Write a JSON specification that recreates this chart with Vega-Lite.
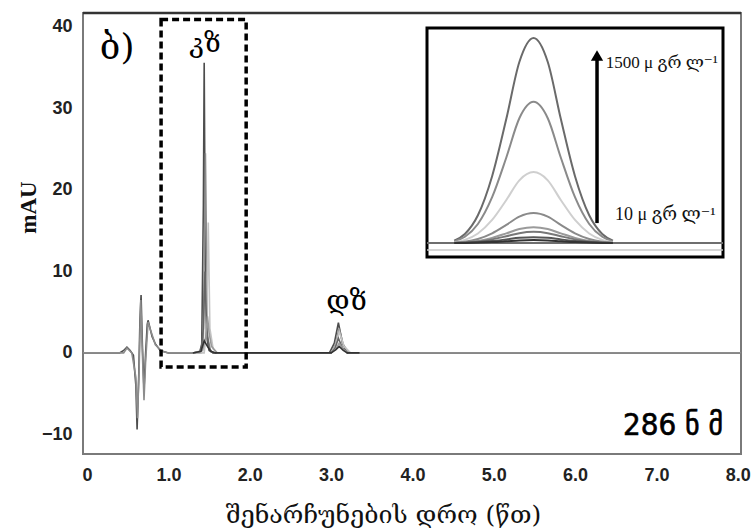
{
  "$schema": "https://vega.github.io/schema/vega-lite/v6.json",
  "width": 658,
  "height": 441,
  "autosize": {"type": "none"},
  "padding": {"left": 83, "top": 13, "right": 14, "bottom": 77},
  "background": "white",
  "config": {"view": {"stroke": "#7a7a7a", "strokeWidth": 2}},
  "datasets": {
    "main": [
      {"t": -0.05, "v": 0, "s": "a"}, {"t": 0.40, "v": 0, "s": "a"}, {"t": 0.45, "v": 0.3, "s": "a"}, {"t": 0.49, "v": 0.7, "s": "a"}, {"t": 0.53, "v": 0.3, "s": "a"}, {"t": 0.57, "v": -0.3, "s": "a"}, {"t": 0.60, "v": -4, "s": "a"}, {"t": 0.615, "v": -9.4, "s": "a"}, {"t": 0.635, "v": -3, "s": "a"}, {"t": 0.65, "v": 4, "s": "a"}, {"t": 0.664, "v": 7.1, "s": "a"}, {"t": 0.68, "v": 1, "s": "a"}, {"t": 0.70, "v": -4.5, "s": "a"}, {"t": 0.72, "v": 0, "s": "a"}, {"t": 0.74, "v": 3.5, "s": "a"}, {"t": 0.75, "v": 4.0, "s": "a"}, {"t": 0.77, "v": 3.2, "s": "a"}, {"t": 0.80, "v": 2.0, "s": "a"}, {"t": 0.84, "v": 1.1, "s": "a"}, {"t": 0.90, "v": 0.3, "s": "a"}, {"t": 1.00, "v": 0, "s": "a"}, {"t": 1.38, "v": 0, "s": "a"}, {"t": 1.41, "v": 1, "s": "a"}, {"t": 1.43, "v": 18, "s": "a"}, {"t": 1.44, "v": 35.6, "s": "a"}, {"t": 1.45, "v": 18, "s": "a"}, {"t": 1.47, "v": 2, "s": "a"}, {"t": 1.50, "v": 0.3, "s": "a"}, {"t": 1.55, "v": 0, "s": "a"}, {"t": 2.98, "v": 0, "s": "a"}, {"t": 3.04, "v": 1.2, "s": "a"}, {"t": 3.09, "v": 3.7, "s": "a"}, {"t": 3.14, "v": 1.2, "s": "a"}, {"t": 3.20, "v": 0, "s": "a"}, {"t": 8.04, "v": 0, "s": "a"},
      {"t": -0.05, "v": 0, "s": "b"}, {"t": 0.45, "v": 0, "s": "b"}, {"t": 0.49, "v": 0.6, "s": "b"}, {"t": 0.55, "v": 0, "s": "b"}, {"t": 0.60, "v": -3, "s": "b"}, {"t": 0.62, "v": -8, "s": "b"}, {"t": 0.64, "v": -2, "s": "b"}, {"t": 0.66, "v": 6.5, "s": "b"}, {"t": 0.68, "v": 0, "s": "b"}, {"t": 0.70, "v": -5.8, "s": "b"}, {"t": 0.72, "v": -1, "s": "b"}, {"t": 0.75, "v": 3.8, "s": "b"}, {"t": 0.78, "v": 2.8, "s": "b"}, {"t": 0.84, "v": 1.0, "s": "b"}, {"t": 0.92, "v": 0.2, "s": "b"}, {"t": 1.00, "v": 0, "s": "b"}, {"t": 1.40, "v": 0, "s": "b"}, {"t": 1.43, "v": 2, "s": "b"}, {"t": 1.455, "v": 24.5, "s": "b"}, {"t": 1.48, "v": 2, "s": "b"}, {"t": 1.52, "v": 0.2, "s": "b"}, {"t": 1.58, "v": 0, "s": "b"}, {"t": 3.00, "v": 0, "s": "b"}, {"t": 3.05, "v": 1, "s": "b"}, {"t": 3.10, "v": 3.0, "s": "b"}, {"t": 3.15, "v": 1, "s": "b"}, {"t": 3.22, "v": 0, "s": "b"}, {"t": 8.04, "v": 0, "s": "b"},
      {"t": 1.30, "v": 0, "s": "c"}, {"t": 1.44, "v": 0, "s": "c"}, {"t": 1.47, "v": 3, "s": "c"}, {"t": 1.49, "v": 16, "s": "c"}, {"t": 1.51, "v": 3, "s": "c"}, {"t": 1.55, "v": 0.5, "s": "c"}, {"t": 1.60, "v": 0, "s": "c"}, {"t": 3.00, "v": 0, "s": "c"}, {"t": 3.05, "v": 0.8, "s": "c"}, {"t": 3.10, "v": 2.6, "s": "c"}, {"t": 3.16, "v": 0.8, "s": "c"}, {"t": 3.24, "v": 0, "s": "c"}, {"t": 3.35, "v": 0, "s": "c"},
      {"t": 1.30, "v": 0, "s": "d"}, {"t": 1.40, "v": 0.2, "s": "d"}, {"t": 1.43, "v": 3, "s": "d"}, {"t": 1.45, "v": 10, "s": "d"}, {"t": 1.47, "v": 3, "s": "d"}, {"t": 1.50, "v": 0.5, "s": "d"}, {"t": 1.55, "v": 0, "s": "d"}, {"t": 3.00, "v": 0, "s": "d"}, {"t": 3.05, "v": 0.6, "s": "d"}, {"t": 3.09, "v": 1.8, "s": "d"}, {"t": 3.14, "v": 0.6, "s": "d"}, {"t": 3.20, "v": 0, "s": "d"}, {"t": 3.35, "v": 0, "s": "d"},
      {"t": 1.30, "v": 0, "s": "e"}, {"t": 1.42, "v": 0.3, "s": "e"}, {"t": 1.46, "v": 2, "s": "e"}, {"t": 1.48, "v": 4.5, "s": "e"}, {"t": 1.50, "v": 2.5, "s": "e"}, {"t": 1.53, "v": 0.8, "s": "e"}, {"t": 1.60, "v": 0, "s": "e"}, {"t": 3.00, "v": 0, "s": "e"}, {"t": 3.06, "v": 0.5, "s": "e"}, {"t": 3.10, "v": 1.2, "s": "e"}, {"t": 3.15, "v": 0.4, "s": "e"}, {"t": 3.22, "v": 0, "s": "e"}, {"t": 3.35, "v": 0, "s": "e"},
      {"t": 1.30, "v": 0, "s": "f"}, {"t": 1.40, "v": 0.2, "s": "f"}, {"t": 1.44, "v": 1.5, "s": "f"}, {"t": 1.48, "v": 0.8, "s": "f"}, {"t": 1.52, "v": 0.2, "s": "f"}, {"t": 1.58, "v": 0, "s": "f"}, {"t": 3.00, "v": 0, "s": "f"}, {"t": 3.06, "v": 0.4, "s": "f"}, {"t": 3.10, "v": 0.8, "s": "f"}, {"t": 3.15, "v": 0.3, "s": "f"}, {"t": 3.20, "v": 0, "s": "f"}, {"t": 3.35, "v": 0, "s": "f"}
    ],
    "inset": [
      {"x": 1.373, "c1500": 0.39, "c1000": 0.27, "c500": 0.13, "c200": 0.06, "c100": 0.03, "c50": 0.02, "c25": 0.01, "c10": 0.01},
      {"x": 1.382, "c1500": 1.54, "c1000": 1.06, "c500": 0.53, "c200": 0.22, "c100": 0.12, "c50": 0.08, "c25": 0.04, "c10": 0.02},
      {"x": 1.393, "c1500": 4.73, "c1000": 3.25, "c500": 1.63, "c200": 0.69, "c100": 0.36, "c50": 0.26, "c25": 0.14, "c10": 0.07},
      {"x": 1.405, "c1500": 11.4, "c1000": 7.83, "c500": 3.93, "c200": 1.66, "c100": 0.88, "c50": 0.62, "c25": 0.33, "c10": 0.16},
      {"x": 1.417, "c1500": 21.2, "c1000": 14.6, "c500": 7.34, "c200": 3.1, "c100": 1.64, "c50": 1.15, "c25": 0.61, "c10": 0.3},
      {"x": 1.428, "c1500": 30.9, "c1000": 21.3, "c500": 10.7, "c200": 4.5, "c100": 2.38, "c50": 1.68, "c25": 0.88, "c10": 0.44},
      {"x": 1.440, "c1500": 35, "c1000": 24.1, "c500": 12.1, "c200": 5.1, "c100": 2.7, "c50": 1.9, "c25": 1.0, "c10": 0.5},
      {"x": 1.452, "c1500": 30.9, "c1000": 21.3, "c500": 10.7, "c200": 4.5, "c100": 2.38, "c50": 1.68, "c25": 0.88, "c10": 0.44},
      {"x": 1.463, "c1500": 21.2, "c1000": 14.6, "c500": 7.34, "c200": 3.1, "c100": 1.64, "c50": 1.15, "c25": 0.61, "c10": 0.3},
      {"x": 1.475, "c1500": 11.4, "c1000": 7.83, "c500": 3.93, "c200": 1.66, "c100": 0.88, "c50": 0.62, "c25": 0.33, "c10": 0.16},
      {"x": 1.487, "c1500": 4.73, "c1000": 3.25, "c500": 1.63, "c200": 0.69, "c100": 0.36, "c50": 0.26, "c25": 0.14, "c10": 0.07},
      {"x": 1.498, "c1500": 1.54, "c1000": 1.06, "c500": 0.53, "c200": 0.22, "c100": 0.12, "c50": 0.08, "c25": 0.04, "c10": 0.02},
      {"x": 1.507, "c1500": 0.39, "c1000": 0.27, "c500": 0.13, "c200": 0.06, "c100": 0.03, "c50": 0.02, "c25": 0.01, "c10": 0.01}
    ]
  },
  "layer": [
    {
      "layer": [
        {
          "data": {"name": "main"},
          "mark": {"type": "line", "strokeWidth": 1.6},
          "encoding": {
            "x": {
              "field": "t", "type": "quantitative",
              "scale": {"domain": [-0.05, 8.04], "nice": false, "zero": false},
              "axis": {
                "values": [0, 1, 2, 3, 4, 5, 6, 7, 8],
                "labelExpr": "datum.value == 0 ? '0' : format(datum.value, '.1f')",
                "labelFont": "Liberation Sans", "labelFontWeight": "bold", "labelFontSize": 18, "labelColor": "#222",
                "ticks": false, "domain": false, "grid": false, "labelPadding": 12,
                "title": "შენარჩუნების დრო (წთ)",
                "titleFont": "DejaVu Serif", "titleFontSize": 25, "titleFontWeight": "normal", "titleColor": "#111",
                "titleX": 300, "titleY": 60, "titleBaseline": "middle", "titleAlign": "center"
              }
            },
            "y": {
              "field": "v", "type": "quantitative",
              "scale": {"domain": [-12.4, 41.7], "nice": false, "zero": false},
              "axis": {
                "values": [-10, 0, 10, 20, 30, 40],
                "labelFont": "Liberation Sans", "labelFontWeight": "bold", "labelFontSize": 18, "labelColor": "#222",
                "ticks": false, "domain": false, "grid": false, "labelPadding": 11,
                "title": "mAU", "titleFont": "Liberation Serif", "titleFontSize": 23, "titleFontWeight": "bold", "titleColor": "#111",
                "titleX": -55, "titleY": 194, "titleAlign": "center", "titleBaseline": "middle"
              }
            },
            "color": {
              "field": "s", "type": "nominal",
              "scale": {"domain": ["a", "b", "c", "d", "e", "f"], "range": ["#4d4d4d", "#8c8c8c", "#c4c4c4", "#666666", "#9a9a9a", "#333333"]},
              "legend": null
            }
          }
        },
        {
          "data": {"values": [{}]},
          "mark": {"type": "rect", "fill": null, "stroke": "black", "strokeWidth": 3.5, "strokeDash": [7, 4]},
          "encoding": {
            "x": {"datum": 0.91, "type": "quantitative"},
            "x2": {"datum": 1.956},
            "y": {"datum": 40.9, "type": "quantitative"},
            "y2": {"datum": -1.72}
          }
        },
        {
          "data": {"values": [{}]},
          "mark": {"type": "rule", "stroke": "#333", "strokeWidth": 2.5},
          "encoding": {"y": {"datum": 41.7, "type": "quantitative"}}
        },
        {
          "data": {"values": [{"label": "ბ)"}]},
          "mark": {"type": "text", "font": "DejaVu Serif", "fontSize": 36, "align": "center", "baseline": "alphabetic", "color": "#000"},
          "encoding": {"x": {"datum": 0.37, "type": "quantitative"}, "y": {"datum": 36.0, "type": "quantitative"}, "text": {"field": "label"}}
        },
        {
          "data": {"values": [{"label": "კზ"}]},
          "mark": {"type": "text", "font": "DejaVu Serif", "fontSize": 27, "align": "center", "baseline": "alphabetic", "color": "#000"},
          "encoding": {"x": {"datum": 1.45, "type": "quantitative"}, "y": {"datum": 36.9, "type": "quantitative"}, "text": {"field": "label"}}
        },
        {
          "data": {"values": [{"label": "დზ"}]},
          "mark": {"type": "text", "font": "DejaVu Serif", "fontSize": 28, "align": "center", "baseline": "alphabetic", "color": "#000"},
          "encoding": {"x": {"datum": 3.19, "type": "quantitative"}, "y": {"datum": 5.3, "type": "quantitative"}, "text": {"field": "label"}}
        },
        {
          "data": {"values": [{"label": "286 ნ მ"}]},
          "mark": {"type": "text", "font": "DejaVu Sans Condensed, Liberation Sans Narrow, DejaVu Sans", "fontSize": 31, "fontWeight": "normal", "align": "right", "baseline": "alphabetic", "color": "#000", "stroke": "#000", "strokeWidth": 0.6},
          "encoding": {"x": {"datum": 7.82, "type": "quantitative"}, "y": {"datum": -10.06, "type": "quantitative"}, "text": {"field": "label"}}
        }
      ]
    },
    {
      "layer": [
        {
          "data": {"values": [{}]},
          "mark": {"type": "rect", "fill": "white", "stroke": "black", "strokeWidth": 3},
          "encoding": {
            "x": {"datum": 1.35, "type": "quantitative", "scale": {"domain": [1.35, 1.6], "range": [344, 640], "nice": false, "zero": false}, "axis": null},
            "x2": {"datum": 1.6},
            "y": {"datum": -2.39, "type": "quantitative", "scale": {"domain": [-2.39, 36.7], "range": [244, 15], "nice": false, "zero": false}, "axis": null},
            "y2": {"datum": 36.7}
          }
        },
        {
          "data": {"values": [{"x": 1.35, "y": -1.2}, {"x": 1.6, "y": -1.2}]},
          "mark": {"type": "line", "stroke": "#c8c8c8", "strokeWidth": 1.5},
          "encoding": {"x": {"field": "x", "type": "quantitative", "axis": null}, "y": {"field": "y", "type": "quantitative", "axis": null}}
        },
        {
          "data": {"values": [{"x": 1.35, "y": 0}, {"x": 1.6, "y": 0}]},
          "mark": {"type": "line", "stroke": "#6e6e6e", "strokeWidth": 2},
          "encoding": {"x": {"field": "x", "type": "quantitative", "axis": null}, "y": {"field": "y", "type": "quantitative", "axis": null}}
        },
        {
          "data": {"name": "inset"},
          "transform": [{"fold": ["c1500", "c1000", "c500", "c200", "c100", "c50", "c25", "c10"], "as": ["key", "val"]}],
          "mark": {"type": "line", "interpolate": "monotone", "strokeWidth": 2},
          "encoding": {
            "x": {"field": "x", "type": "quantitative", "axis": null},
            "y": {"field": "val", "type": "quantitative", "axis": null},
            "color": {
              "field": "key", "type": "nominal",
              "scale": {"domain": ["c1500", "c1000", "c500", "c200", "c100", "c50", "c25", "c10"], "range": ["#6a6a6a", "#8a8a8a", "#cfcfcf", "#8a8a8a", "#9a9a9a", "#777777", "#555555", "#333333"]},
              "legend": null
            }
          }
        },
        {
          "data": {"values": [{}]},
          "mark": {"type": "rule", "stroke": "black", "strokeWidth": 3.5},
          "encoding": {"x": {"datum": 1.4936, "type": "quantitative"}, "y": {"datum": 3.4, "type": "quantitative"}, "y2": {"datum": 31.5}}
        },
        {
          "data": {"values": [{}]},
          "mark": {"type": "point", "shape": "triangle-up", "filled": true, "color": "black", "size": 150, "opacity": 1},
          "encoding": {"x": {"datum": 1.4936, "type": "quantitative"}, "y": {"datum": 32.0, "type": "quantitative"}}
        },
        {
          "data": {"values": [{"label": "1500 μ გრ ლ⁻¹"}]},
          "mark": {"type": "text", "font": "Liberation Serif, DejaVu Serif", "fontSize": 17, "align": "left", "baseline": "middle", "color": "#111"},
          "encoding": {"x": {"datum": 1.501, "type": "quantitative"}, "y": {"datum": 30.7, "type": "quantitative"}, "text": {"field": "label"}}
        },
        {
          "data": {"values": [{"label": "10 μ გრ ლ⁻¹"}]},
          "mark": {"type": "text", "font": "Liberation Serif, DejaVu Serif", "fontSize": 18, "align": "left", "baseline": "middle", "color": "#111"},
          "encoding": {"x": {"datum": 1.5088, "type": "quantitative"}, "y": {"datum": 4.8, "type": "quantitative"}, "text": {"field": "label"}}
        }
      ]
    }
  ],
  "resolve": {"scale": {"x": "independent", "y": "independent", "color": "independent"}}
}
